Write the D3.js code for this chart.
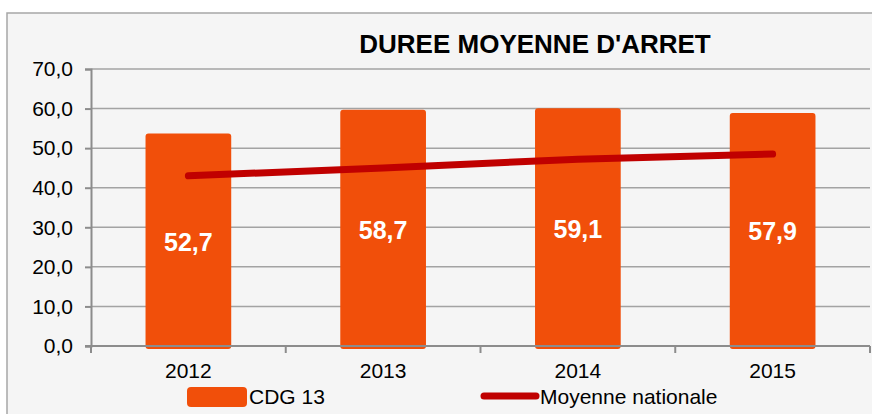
<!DOCTYPE html>
<html>
<head>
<meta charset="utf-8">
<script src="https://cdn.jsdelivr.net/npm/d3@7"></script>
<style>
  body { margin: 0; background: #fff; }
  svg { display: block; font-family: "Liberation Sans", Arial, sans-serif; }
</style>
</head>
<body>
<svg id="chart" width="872" height="414"></svg>
<script>
const years = ['2012', '2013', '2014', '2015']
const cdg13 = [52.7, 58.7, 59.1, 57.9]
const moyenneNationale = [43.0, 45.0, 47.2, 48.5]
const yTicks = [0, 10, 20, 30, 40, 50, 60, 70]

const svg = d3.select('#chart')
const margin = { left: 91, right: 2, top: 69, bottom: 68 }
const width = +svg.attr('width')
const height = +svg.attr('height')

// chart area background + border
svg.append('rect')
  .attr('x', 7).attr('y', 13)
  .attr('width', 880).attr('height', 420)
  .attr('fill', '#f5f5f5')
  .attr('stroke', '#a6a6a6')
  .attr('stroke-width', 1.5)

const x = d3.scaleBand()
  .domain(years)
  .range([margin.left, width - margin.right])

const y = d3.scaleLinear()
  .domain([0, 70])
  .range([height - margin.bottom, margin.top])

// gridlines
svg.append('g')
  .selectAll('line')
  .data(yTicks.slice(1))
  .enter()
  .append('line')
    .attr('x1', margin.left).attr('x2', width - margin.right)
    .attr('y1', d => y(d)).attr('y2', d => y(d))
    .attr('stroke', '#a3a3a3')
    .attr('stroke-width', 1.5)

// bars
const barW = x.bandwidth() * 0.44
svg.append('g')
  .selectAll('rect')
  .data(cdg13)
  .enter()
  .append('rect')
    .attr('x', (d, i) => x(years[i]) + (x.bandwidth() - barW) / 2)
    .attr('y', d => y(d) - 4)
    .attr('width', barW)
    .attr('height', d => y(0) - y(d) + 7)
    .attr('rx', 3)
    .attr('fill', '#f14f0a')

// y axis
const yAxis = svg.append('g')
  .attr('transform', `translate(${margin.left},0)`)
  .call(d3.axisLeft(y).tickValues(yTicks).tickSize(6).tickPadding(12)
    .tickFormat(d => d3.format('.1f')(d).replace('.', ',')))
yAxis.select('.domain').attr('stroke', '#8c8c8c').attr('stroke-width', 2)
yAxis.selectAll('.tick line').attr('stroke', '#8c8c8c').attr('stroke-width', 2)
yAxis.selectAll('text')
  .attr('fill', '#000')
  .style('font-size', '21px')
  .style('font-family', '"Liberation Sans", Arial, sans-serif')

// x axis
const xAxisG = svg.append('g')
  .attr('transform', `translate(0,${y(0)})`)
xAxisG.append('line')
  .attr('x1', margin.left - 6).attr('x2', width - margin.right)
  .attr('stroke', '#8c8c8c').attr('stroke-width', 2)
const edges = years.map(d => x(d)).concat([x(years[years.length - 1]) + x.bandwidth()])
xAxisG.selectAll('.xtick')
  .data(edges)
  .enter()
  .append('line')
    .attr('x1', d => d).attr('x2', d => d)
    .attr('y1', 0).attr('y2', 7)
    .attr('stroke', '#8c8c8c').attr('stroke-width', 2)
xAxisG.selectAll('.xlabel')
  .data(years)
  .enter()
  .append('text')
    .attr('x', d => x(d) + x.bandwidth() / 2)
    .attr('y', 32)
    .attr('text-anchor', 'middle')
    .style('font-size', '21px')
    .text(d => d)

// line
const line = d3.line()
  .x((d, i) => x(years[i]) + x.bandwidth() / 2)
  .y(d => y(d))
svg.append('path')
  .datum(moyenneNationale)
  .attr('d', line)
  .attr('fill', 'none')
  .attr('stroke', '#c00000')
  .attr('stroke-width', 7)
  .attr('stroke-linecap', 'round')

// data labels
svg.append('g')
  .selectAll('text')
  .data(cdg13)
  .enter()
  .append('text')
    .attr('x', (d, i) => x(years[i]) + x.bandwidth() / 2)
    .attr('y', d => y(d / 2))
    .attr('dy', '0.36em')
    .attr('text-anchor', 'middle')
    .attr('fill', '#fff')
    .style('font-size', '25px')
    .style('font-weight', 'bold')
    .text(d => String(d).replace('.', ','))

// title
svg.append('text')
  .attr('x', 535).attr('y', 53)
  .attr('text-anchor', 'middle')
  .style('font-size', '26px')
  .style('font-weight', 'bold')
  .text("DUREE MOYENNE D'ARRET")

// legend
const legend = svg.append('g')
legend.append('rect')
  .attr('x', 187).attr('y', 387)
  .attr('width', 60).attr('height', 20)
  .attr('rx', 4)
  .attr('fill', '#f14f0a')
legend.append('text')
  .attr('x', 249).attr('y', 404)
  .style('font-size', '21px')
  .text('CDG 13')
legend.append('line')
  .attr('x1', 484).attr('x2', 536)
  .attr('y1', 396).attr('y2', 396)
  .attr('stroke', '#c00000')
  .attr('stroke-width', 7)
  .attr('stroke-linecap', 'round')
legend.append('text')
  .attr('x', 540).attr('y', 404)
  .style('font-size', '21px')
  .text('Moyenne nationale')
</script>
</body>
</html>
